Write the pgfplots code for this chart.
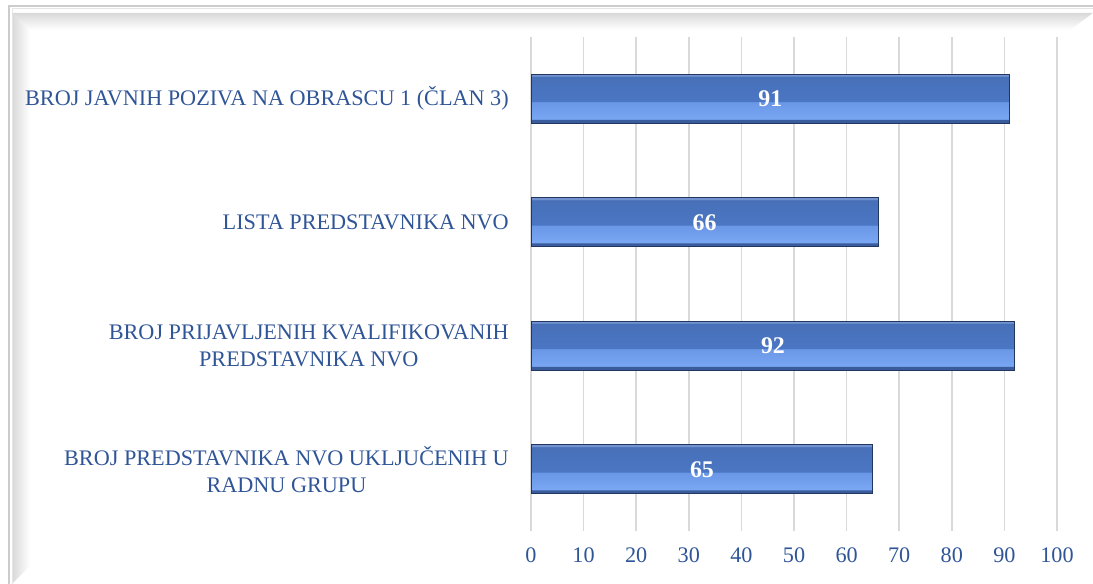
\documentclass[border=0pt]{standalone}
\usepackage{pgfplots}
\pgfplotsset{compat=1.18}
\usepackage{fontspec}
\setmainfont{Liberation Serif}
\definecolor{txtblue}{HTML}{2F5597}
\definecolor{gridc}{HTML}{D9D9D9}
\definecolor{bbot}{HTML}{3A5C9C}
\definecolor{blowA}{HTML}{7AA7F3}
\definecolor{blowB}{HTML}{6A97E6}
\definecolor{bupA}{HTML}{4B76C3}
\definecolor{bupB}{HTML}{4770B8}
\definecolor{bhi}{HTML}{7393D0}
\definecolor{bborder}{HTML}{22375F}
\pgfdeclareverticalshading{barshade}{100bp}{%
color(0bp)=(bbot); color(25bp)=(bbot); color(28.5bp)=(bbot);
color(29.5bp)=(blowA); color(46.5bp)=(blowB);
color(47.5bp)=(bupA); color(72.5bp)=(bupB);
color(73.5bp)=(bhi); color(75bp)=(bhi); color(100bp)=(bhi)}
\pgfplotsset{mybar/.style={xbar, bar width=49bp, bar shift=0pt, shading=barshade, draw=bborder, line width=1bp}}
\begin{document}
\begin{tikzpicture}[x=1bp,y=1bp]
\useasboundingbox (0,0) rectangle (1093,584);
\begin{scope}
\clip (0,0) rectangle (1093,584);
\shade[top color=black!15, bottom color=white] (12,571) -- (1093,571) -- (1070,554) -- (30,554) -- cycle;
\shade[left color=black!15, right color=white] (12,571) -- (30,554) -- (30,18) -- (12,0) -- cycle;
\draw[black!20, line width=1.5bp] (9,-5) -- (9,578) -- (1100,578);
\draw[black!10, line width=1bp] (12,-5) -- (12,575) -- (1100,575);
\end{scope}
\begin{axis}[
  at={(531bp,53bp)}, anchor=south west,
  scale only axis, width=526bp, height=494bp,
  xmin=0, xmax=100, ymin=0.5, ymax=4.5,
  y dir=reverse,
  axis line style={draw=none},
  major tick length=0pt,
  xtick={0,10,...,100},
  ytick={1,2,3,4},
  yticklabels={{BROJ JAVNIH POZIVA NA OBRASCU 1 (ČLAN 3)},{LISTA PREDSTAVNIKA NVO},{BROJ PRIJAVLJENIH KVALIFIKOVANIH\\PREDSTAVNIKA NVO},{BROJ PREDSTAVNIKA NVO UKLJUČENIH U\\RADNU GRUPU}},
  xmajorgrids, ymajorgrids=false,
  major grid style={gridc, line width=1.5bp},
  /pgf/number format/assume math mode=true,
  tick label style={font=\fontsize{22.3}{27}\selectfont, text=txtblue},
  xticklabel style={anchor=center, yshift=-24bp},
  yticklabel style={align=center, anchor=east, inner sep=0pt, xshift=-22bp},
  clip=false,
]
\addplot[mybar] coordinates {(91,1)};
\addplot[mybar] coordinates {(66,2)};
\addplot[mybar] coordinates {(92,3)};
\addplot[mybar] coordinates {(65,4)};
\addplot[draw=none, mark=none, nodes near coords, point meta=explicit,
  nodes near coords style={anchor=center, text=white, font=\fontsize{24}{28}\selectfont\bfseries}]
  table[x expr=\thisrow{v}/2, y=y, meta=v] {
y v
1 91
2 66
3 92
4 65
};
\end{axis}
\end{tikzpicture}
\end{document}
